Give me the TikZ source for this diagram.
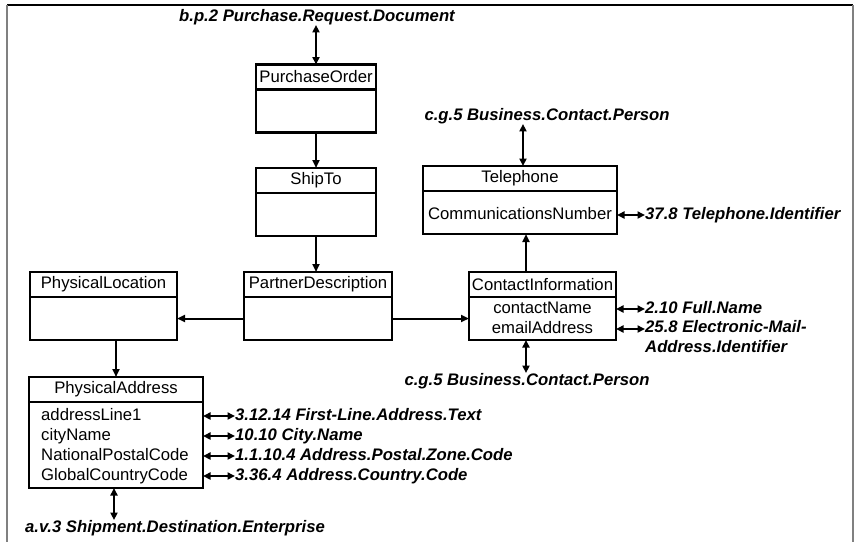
\documentclass[tikz,border=0pt]{standalone}
\usepackage{fontspec}
\setmainfont{Liberation Sans}
\usetikzlibrary{positioning,arrows.meta}

\begin{document}
\begin{tikzpicture}[x=1pt,y=-1pt,
          every node/.style={font=\fontsize{16.7}{20}\selectfont},
          hdr/.style={draw,line width=2.2pt,outer sep=0pt,inner sep=0pt,minimum width=#1,minimum height=25pt},
          body/.style={draw,line width=2.2pt,outer sep=0pt,inner sep=0pt,minimum width=#1,minimum height=43pt},
          attr/.style={inner sep=0pt,text height=12pt,text depth=3.5pt},
          ref/.style={attr,font=\fontsize{16.7}{20}\selectfont\bfseries\itshape},
          link/.style={line width=2pt,-{Triangle[length=8pt,width=7pt]}},
          dlink/.style={line width=2pt,{Triangle[length=7.5pt,width=7pt]}-{Triangle[length=7.5pt,width=7pt]}},
        ]
        \useasboundingbox (0,0) rectangle (857,542);
        % frame
        \draw[black,line width=1.2pt] (7,5) -- (853,5);
        \draw[gray,line width=2pt] (7,5) -- (7,542);
        \draw[gray,line width=2pt] (853,5) -- (853,542);
        % classes
        \node[hdr=120] (po) at (316,77) {PurchaseOrder};
        \node[body=120,below=0pt of po] (poB) {};
        \node[hdr=120] (ship) at (316,180.5) {ShipTo};
        \node[body=120,below=0pt of ship] (shipB) {};
        \node[hdr=194] (tel) at (520,178.5) {Telephone};
        \node[body=194,below=0pt of tel] (telB) {};
        \node[hdr=147] (loc) at (103.5,284.5) {PhysicalLocation};
        \node[body=147,below=0pt of loc] (locB) {};
        \node[hdr=148] (pd) at (318,284.5) {PartnerDescription};
        \node[body=148,below=0pt of pd] (pdB) {};
        \node[hdr=147] (ci) at (542.5,284.5) {ContactInformation};
        \node[body=147,below=0pt of ci] (ciB) {};
        \node[hdr=174] (pa) at (116,389.5) {PhysicalAddress};
        \node[body=174,minimum height=86pt,below=0pt of pa] (paB) {};
        % attributes
        \node[attr] (cnum) at (520,215) {CommunicationsNumber};
        \node[attr] (cn) at (542.5,309) {contactName};
        \node[attr] (em) at (542.5,329) {emailAddress};
        % references
        \node[ref] (bp) at (317,17) {b.p.2 Purchase.Request.Document};
        \node[ref] (cgt) at (547,116) {c.g.5 Business.Contact.Person};
        \node[ref] (cgb) at (527,381) {c.g.5 Business.Contact.Person};
        \node[ref] (av) at (175,528) {a.v.3 Shipment.Destination.Enterprise};
        \node[ref,anchor=west] (telref) at (645,215) {37.8 Telephone.Identifier};
        \node[ref,anchor=west] (fnref) at (645,309) {2.10 Full.Name};
        \node[ref,anchor=west,align=left,text height=,text depth=] (emref) at (645,337) {25.8 Electronic-Mail-\\Address.Identifier};
        \foreach \i/\txt/\lab/\y in {1/addressLine1/{3.12.14 First-Line.Address.Text}/416,
                                    2/cityName/{10.10 City.Name}/436,
                                    3/NationalPostalCode/{1.1.10.4 Address.Postal.Zone.Code}/456,
                                    4/GlobalCountryCode/{3.36.4 Address.Country.Code}/476} {
          \node[attr,anchor=west] (pa\i) at (41,\y) {\txt};
          \node[ref,anchor=west] (par\i) at (235,\y) {\lab};
          \draw[dlink] (paB.east |- pa\i) -- (par\i.west);
        }
        % connectors
        \draw[dlink] (po.north |- bp.south) -- (po.north);
        \draw[link] (poB.south) -- (ship.north);
        \draw[link] (shipB.south) -- (shipB.south |- pd.north);
        \draw[link] (pdB.west) -- (locB.east);
        \draw[link] (pdB.east) -- (ciB.west);
        \draw[link] ([xshift=-16.5pt]ci.north) -- ([xshift=-16.5pt]ci.north |- telB.south);
        \draw[dlink] ([xshift=3pt]tel.north |- cgt.south) -- ([xshift=3pt]tel.north);
        \draw[dlink] (telB.east |- cnum) -- (telref.west);
        \draw[dlink] (ciB.east |- cn) -- (fnref.west);
        \draw[dlink] (ciB.east |- em) -- (em -| emref.west);
        \draw[dlink] ([xshift=-16.5pt]ciB.south) -- ([xshift=-16.5pt]ciB.south |- cgb.north);
        \draw[link] (pa.north |- locB.south) -- (pa.north);
        \draw[dlink] ([xshift=-2pt]paB.south) -- ([xshift=-2pt]paB.south |- av.north);
      \end{tikzpicture}
\end{document}
